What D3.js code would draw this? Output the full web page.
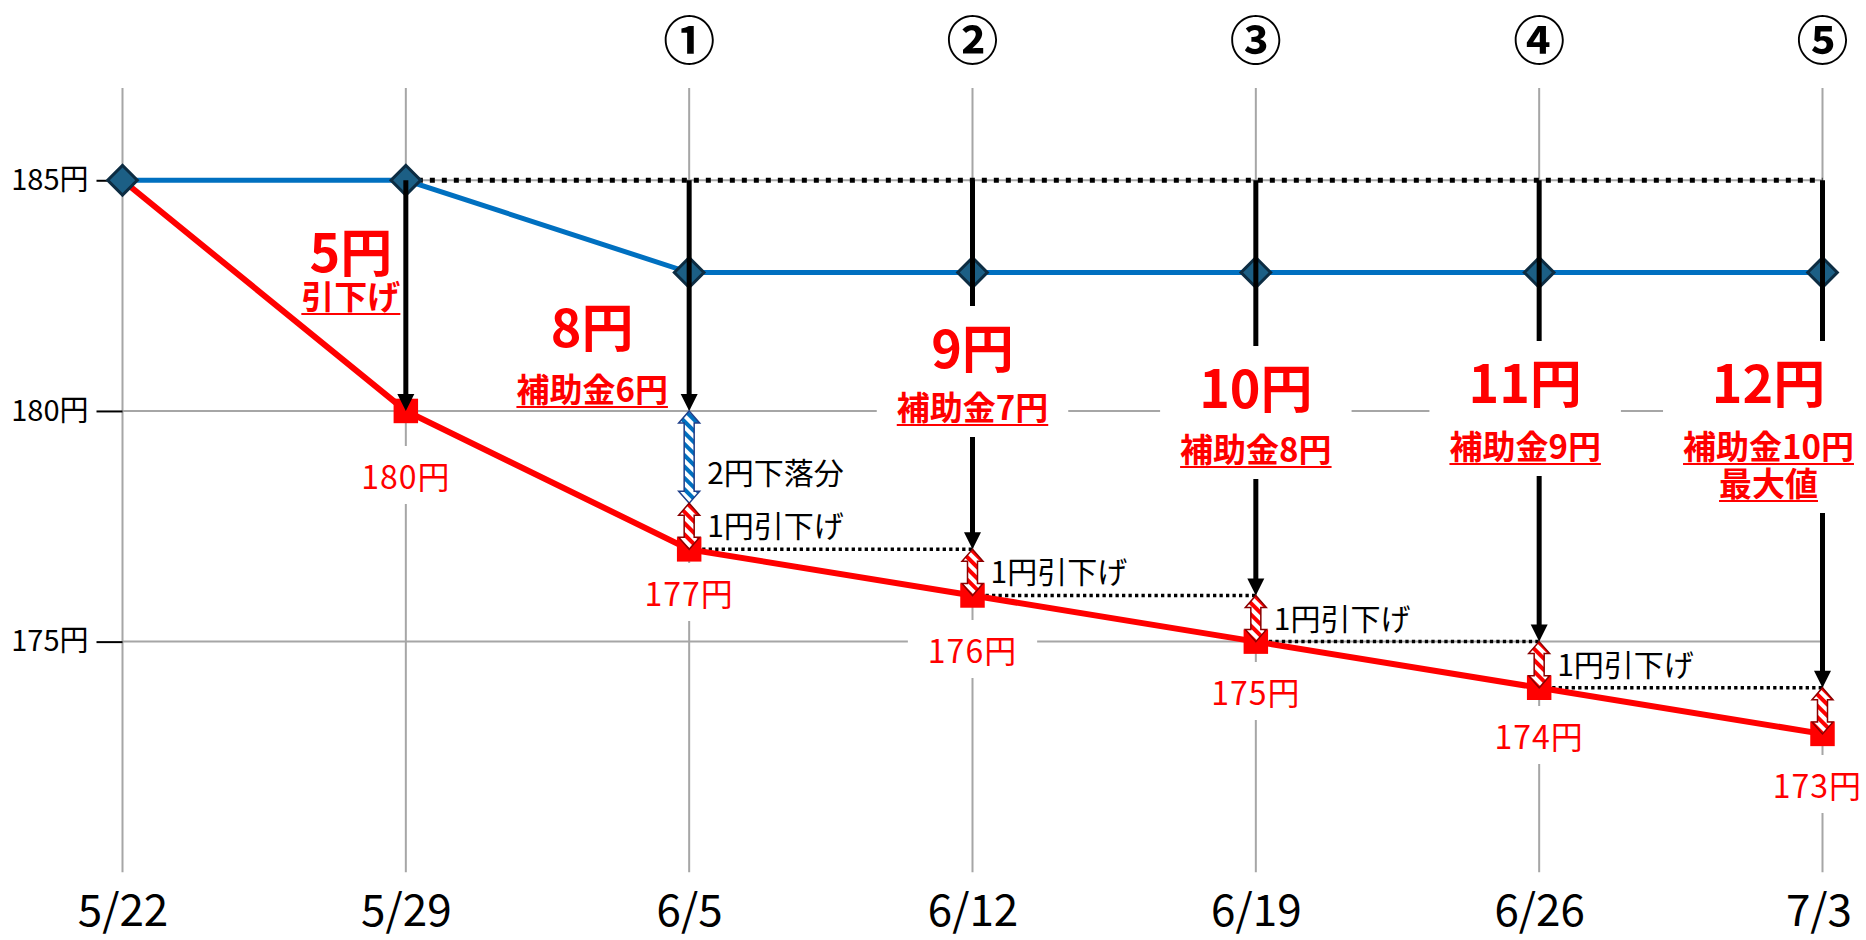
<!DOCTYPE html>
<html><head><meta charset="utf-8">
<script src="https://cdn.jsdelivr.net/npm/d3@7"></script>
<style>
html,body{margin:0;padding:0;background:#fff;}
svg{display:block;font-family:"Noto Sans CJK JP","Noto Sans",sans-serif;}
</style></head><body>
<svg id="chart" width="1866" height="940"></svg>
<script>
// ---------- data ----------
const dates = ["5/22","5/29","6/5","6/12","6/19","6/26","7/3"];
const basePrice = [185,185,183,183,183,183,183];      // blue line
const retailPrice = [185,180,177,176,175,174,173];    // red line
const yTicks = [185,180,175];
const referencePrice = 185;
const roundMarks = ["","","①","②","③","④","⑤"];
const arrowTarget = [null,180,180,177,176,175,174];
const cutTitles = ["","5円","8円","9円","10円","11円","12円"];
const cutNotes = [[],["引下げ"],["補助金6円"],["補助金7円"],["補助金8円"],["補助金9円"],["補助金10円","最大値"]];
const dropFrom = [null,null,180,null,null,null,null];
const dropTo   = [null,null,178,null,null,null,null];
const dropText = "2円下落分";
const cutFrom = [null,null,178,177,176,175,174];
const cutTo   = [null,null,177,176,175,174,173];
const cutTexts = [null,null,"1円引下げ","1円引下げ","1円引下げ","1円引下げ",null];
const prevWeekFrom = [null,null,null,177,176,175,174];

// ---------- layout (styles / offsets) ----------
const titleLayout = [null,
  {dx:-55, y:272, ny:309, box:false},
  {dx:-97, y:347, ny:402, box:false},
  {dx:0,   y:368, ny:420, box:true},
  {dx:0,   y:408, ny:462, box:true},
  {dx:-14, y:403, ny:459, box:true},
  {dx:-54, y:403, ny:459, box:true}];
const valueLabelY = [null,489,606,663,705,749,798];
const FONT = '"Noto Sans CJK JP","Noto Sans",sans-serif';
const GRID = "#a6a6a6", RED = "#ff0000", BLUE = "#0070c0";

const svg = d3.select("#chart");
const x = d3.scalePoint().domain(dates).range([122.5,1822.5]);
const y = d3.scaleLinear().domain([170,187]).range([872.3,88]);

const defs = svg.append("defs");
function hatch(id,color){
  const p = defs.append("pattern").attr("id",id).attr("patternUnits","userSpaceOnUse")
    .attr("width",8).attr("height",8).attr("patternTransform","rotate(-45)");
  p.append("rect").attr("width",8).attr("height",8).attr("fill","#fff");
  p.append("rect").attr("width",4).attr("height",8).attr("fill",color);
}
hatch("hBlue",BLUE); hatch("hRed",RED);

// ---------- grid ----------
const gGrid = svg.append("g");
gGrid.selectAll("line.v").data(dates).join("line").attr("class","v")
  .attr("x1",d=>x(d)).attr("x2",d=>x(d)).attr("y1",y(187)).attr("y2",y(170))
  .attr("stroke",GRID).attr("stroke-width",2);
gGrid.selectAll("line.h").data(yTicks).join("line").attr("class","h")
  .attr("x1",x(dates[0])).attr("x2",x(dates[dates.length-1])).attr("y1",d=>y(d)).attr("y2",d=>y(d))
  .attr("stroke",GRID).attr("stroke-width",2);

// ---------- axes ----------
const yAxis = d3.axisLeft(y).tickValues(yTicks).tickSize(26).tickPadding(8).tickFormat(d=>d+"円");
svg.append("g").attr("transform",`translate(${x(dates[0])},0)`).call(yAxis)
  .attr("font-family",FONT).attr("font-size",29)
  .call(g=>g.select(".domain").remove())
  .call(g=>g.selectAll(".tick line").attr("stroke","#000").attr("stroke-width",2))
  .call(g=>g.selectAll(".tick text").attr("fill","#000"));

const xAxis = d3.axisBottom(x).tickSize(0).tickPadding(22);
svg.append("g").attr("transform",`translate(0,${y(170)})`).call(xAxis)
  .attr("font-family",FONT).attr("font-size",44)
  .call(g=>g.select(".domain").remove())
  .call(g=>g.selectAll(".tick text").attr("fill","#000").each(function(){
    const b=this.getBBox(), tx=+this.parentNode.getAttribute("transform").match(/translate\(([^,]+)/)[1];
    if(tx+b.x+b.width>1852) d3.select(this).attr("x",1852-(tx+b.x+b.width));
  }));

// round marks
svg.append("g").selectAll("text").data(dates).join("text")
  .attr("x",d=>x(d)).attr("y",60).attr("text-anchor","middle")
  .attr("font-size",52).attr("font-weight","bold").attr("fill","#000").text((d,i)=>roundMarks[i]);

// ---------- value labels with white boxes ----------
const gVal = svg.append("g");
dates.forEach((d,i)=>{
  if(valueLabelY[i]==null) return;
  const t = gVal.append("text").attr("x",x(d)).attr("y",valueLabelY[i]).attr("text-anchor","middle")
    .attr("font-size",32).attr("fill",RED).attr("letter-spacing",1).text(retailPrice[i]+"円");
  let b = t.node().getBBox();
  if(b.x+b.width>1862){ t.attr("x",x(d)-(b.x+b.width-1862)); b=t.node().getBBox(); }
  gVal.insert("rect","text").attr("x",b.x-20).attr("y",b.y-6).attr("width",b.width+40).attr("height",b.height+12).attr("fill","#fff");
});

// ---------- reference dotted lines ----------
svg.append("line").attr("x1",x(dates[1])).attr("x2",x(dates[dates.length-1]))
  .attr("y1",y(referencePrice)).attr("y2",y(referencePrice))
  .attr("stroke","#000").attr("stroke-width",5).attr("stroke-dasharray","5,7");
dates.forEach((d,i)=>{
  if(prevWeekFrom[i]==null) return;
  svg.append("line").attr("x1",x(dates[i-1])).attr("x2",x(d))
    .attr("y1",y(prevWeekFrom[i])).attr("y2",y(prevWeekFrom[i]))
    .attr("stroke","#000").attr("stroke-width",3.5).attr("stroke-dasharray","3.3,3.2");
});

// ---------- lines ----------
const line = d3.line().x((d,i)=>x(dates[i])).y(d=>y(d));
svg.append("path").attr("d",line(basePrice)).attr("fill","none").attr("stroke",BLUE).attr("stroke-width",5);
svg.append("path").attr("d",line(retailPrice)).attr("fill","none").attr("stroke",RED).attr("stroke-width",6);

svg.append("g").selectAll("path").data(basePrice).join("path")
  .attr("transform",(d,i)=>`translate(${x(dates[i])},${y(d)}) rotate(45)`)
  .attr("d",d3.symbol(d3.symbolSquare,440)()).attr("fill","#1c5f85").attr("stroke","#0c2c42").attr("stroke-width",3);
svg.append("g").selectAll("path").data(retailPrice.slice(1)).join("path")
  .attr("transform",(d,i)=>`translate(${x(dates[i+1])},${y(d)})`)
  .attr("d",d3.symbol(d3.symbolSquare,600)()).attr("fill",RED);

// ---------- black arrows ----------
const gArr = svg.append("g");
dates.forEach((d,i)=>{
  if(arrowTarget[i]==null) return;
  const cx=x(d), y0=y(referencePrice), yt=y(arrowTarget[i]);
  gArr.append("line").attr("x1",cx).attr("x2",cx).attr("y1",y0).attr("y2",yt-14).attr("stroke","#000").attr("stroke-width",5);
  gArr.append("path").attr("d",`M${cx},${yt}L${cx-8.5},${yt-17}L${cx+8.5},${yt-17}Z`).attr("fill","#000");
});

// ---------- hatched double arrows ----------
function dbl(cx,y1,y2){
  const hw=10.5, hl=12, sw=5;
  return `M${cx},${y1}L${cx+hw},${y1+hl}L${cx+sw},${y1+hl}L${cx+sw},${y2-hl}L${cx+hw},${y2-hl}L${cx},${y2}L${cx-hw},${y2-hl}L${cx-sw},${y2-hl}L${cx-sw},${y1+hl}L${cx-hw},${y1+hl}Z`;
}
const gH = svg.append("g");
dates.forEach((d,i)=>{
  const cx=x(d);
  if(dropFrom[i]!=null){
    gH.append("path").attr("d",dbl(cx,y(dropFrom[i]),y(dropTo[i]))).attr("fill","url(#hBlue)").attr("stroke","#1f3f8a").attr("stroke-width",1.5);
    gH.append("text").attr("x",cx+18).attr("y",(y(dropFrom[i])+y(dropTo[i]))/2+27).attr("font-size",30).attr("fill","#000").text(dropText);
  }
  if(cutFrom[i]!=null){
    gH.append("path").attr("d",dbl(cx,y(cutFrom[i]),y(cutTo[i]))).attr("fill","url(#hRed)").attr("stroke","#8b0000").attr("stroke-width",1.5);
    if(cutTexts[i]) gH.append("text").attr("x",cx+18).attr("y",(y(cutFrom[i])+y(cutTo[i]))/2+11).attr("font-size",30).attr("fill","#000").text(cutTexts[i]);
  }
});

// ---------- big labels ----------
dates.forEach((d,i)=>{
  const L=titleLayout[i]; if(!L) return;
  const g=svg.append("g");
  const cx=x(d)+L.dx;
  const t=g.append("text").attr("x",cx).attr("y",L.y).attr("text-anchor","middle")
    .attr("font-size",52).attr("font-weight","bold").attr("fill",RED).text(cutTitles[i]);
  let minX=t.node().getBBox().x, maxX=minX+t.node().getBBox().width, lastY=L.ny;
  cutNotes[i].forEach((s,k)=>{
    const by=L.ny+k*37;
    const n=g.append("text").attr("x",cx).attr("y",by).attr("text-anchor","middle")
      .attr("font-size",33).attr("font-weight","bold").attr("fill",RED).text(s);
    const b=n.node().getBBox();
    g.append("line").attr("x1",b.x).attr("x2",b.x+b.width).attr("y1",by+5).attr("y2",by+5).attr("stroke",RED).attr("stroke-width",2.2);
    minX=Math.min(minX,b.x); maxX=Math.max(maxX,b.x+b.width); lastY=by;
  });
  if(L.box){
    g.insert("rect",":first-child").attr("x",minX-20).attr("y",L.y-62).attr("width",maxX-minX+40)
      .attr("height",lastY+17-(L.y-62)).attr("fill","#fff");
  }
});
</script>
</body></html>
